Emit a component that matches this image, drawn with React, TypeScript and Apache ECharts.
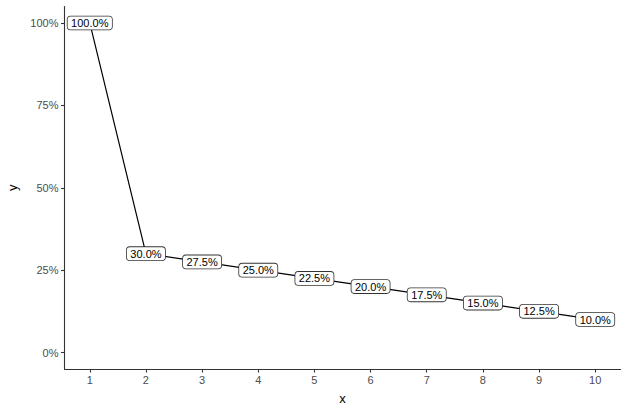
import React, { useEffect, useRef } from "react";
import * as echarts from "echarts";

const xValues = [1, 2, 3, 4, 5, 6, 7, 8, 9, 10];
const yValues = [1.0, 0.3, 0.275, 0.25, 0.225, 0.2, 0.175, 0.15, 0.125, 0.1];
const xTicks = [1, 2, 3, 4, 5, 6, 7, 8, 9, 10];
const yTicks = [0, 0.25, 0.5, 0.75, 1.0];

export default function App() {
  const ref = useRef<HTMLDivElement>(null);
  useEffect(() => {
    if (!ref.current) return;
    const chart = echarts.init(ref.current, undefined, { renderer: "svg" });
    const font = "'Liberation Sans', Arial, Helvetica, sans-serif";
    chart.setOption({
      animation: false,
      backgroundColor: "#ffffff",
      textStyle: { fontFamily: font, color: "#4d4d4d" },
      grid: {
        left: 64.5,
        right: 7.5,
        top: 6.5,
        bottom: 40,
        containLabel: false,
        outerBoundsMode: "none",
      },
      xAxis: {
        type: "value",
        min: 0.55,
        max: 10.45,
        name: "x",
        nameLocation: "middle",
        nameGap: 23,
        nameTextStyle: { color: "#000", fontSize: 13, fontFamily: font },
        splitLine: { show: false },
        axisLine: { show: true, onZero: false, lineStyle: { color: "#333", width: 1.1 } },
        axisTick: { show: true, length: 3.5, customValues: xTicks, lineStyle: { color: "#333", width: 1.1 } },
        axisLabel: { customValues: xTicks, color: "#4d4d4d", fontSize: 11, fontFamily: font, margin: 5 },
      },
      yAxis: {
        type: "value",
        min: -0.05,
        max: 1.05,
        name: "y",
        nameLocation: "middle",
        nameGap: 46,
        nameTextStyle: { color: "#000", fontSize: 13, fontFamily: font },
        splitLine: { show: false },
        axisLine: { show: true, onZero: false, lineStyle: { color: "#333", width: 1.1 } },
        axisTick: { show: true, length: 3.5, customValues: yTicks, lineStyle: { color: "#333", width: 1.1 } },
        axisLabel: {
          customValues: yTicks,
          color: "#4d4d4d",
          fontSize: 11,
          fontFamily: font,
          margin: 6,
          formatter: (v: number) => `${Math.round(v * 100)}%`,
        },
      },
      series: [
        {
          type: "line",
          data: xValues.map((x, i) => [x, yValues[i]]),
          symbol: "circle",
          symbolSize: 0.1,
          showSymbol: true,
          itemStyle: { color: "rgba(0,0,0,0)" },
          lineStyle: { color: "#000", width: 1.2 },
          label: {
            show: true,
            position: "inside",
            formatter: (p: any) => `${(p.value[1] * 100).toFixed(1)}%`,
            color: "#000",
            fontSize: 11,
            fontFamily: font,
            backgroundColor: "#fff",
            borderColor: "#333",
            borderWidth: 0.8,
            borderRadius: 3,
            padding: [1, 3.5, 0, 3.5],
            lineHeight: 12,
          },
          labelLayout: { hideOverlap: false },
        },
      ],
    });
    return () => chart.dispose();
  }, []);
  return (
    <div
      ref={ref}
      style={{ position: "fixed", left: 0, top: 0, width: 628, height: 409 }}
    />
  );
}
